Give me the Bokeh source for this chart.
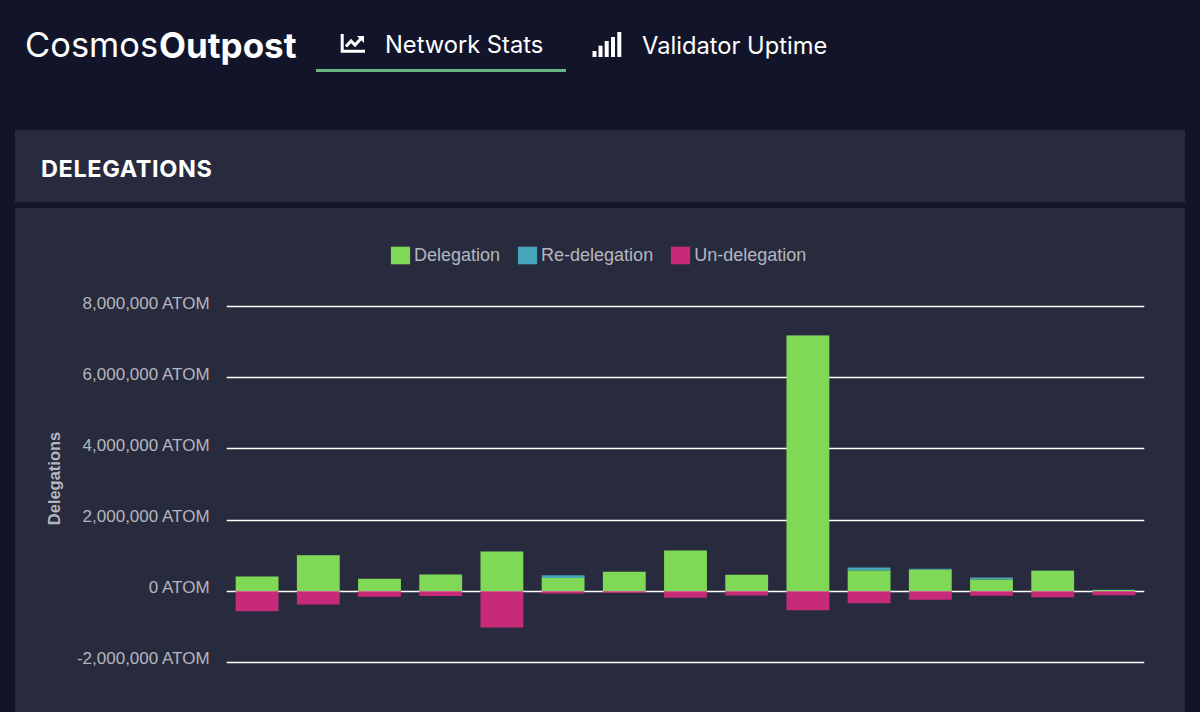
from bokeh.embed import file_html
from bokeh.resources import INLINE
from bokeh.plotting import figure
from bokeh.layouts import column
from bokeh.models import Div, LinearAxis, Range1d, Grid, FixedTicker, Legend, LegendItem

categories = list(range(1, 16))
delegation = [413000, 1013000, 347000, 469000, 1116000, 366000, 544000, 1144000, 460000,
              7190000, 582000, 600000, 328000, 572000, 30000]
redelegation = [2000, 2000, 2000, 2000, 2000, 84000, 4000, 2000, 2000, 10000, 84000, 30000, 56000, 5000, 10000]
undelegation = [563000, 375000, 160000, 140000, 1022000, 66000, 47000, 188000, 122000,
                535000, 338000, 244000, 131000, 169000, 113000]
tick_values = [-2000000, 0, 2000000, 4000000, 6000000, 8000000]
tick_labels = ["-2,000,000 ATOM", "0 ATOM", "2,000,000 ATOM", "4,000,000 ATOM", "6,000,000 ATOM", "8,000,000 ATOM"]

PAGE = "#12152a"
PANEL = "#282b3e"
GREEN = "#7fd957"
BLUE = "#47a5bc"
MAGENTA = "#c72a78"
MUTED = "#b4b6bf"
BODY_FONT = "Liberation Sans"
HEAD_FONT = "Inter"

Y_START, Y_END = -3415000, 9753000
LABEL_SHIFT = 95000
HEADER_H = 230

def span(x, top, s, size, weight=400, extra=""):
    return (f'<span style="position:absolute;left:{x}px;top:{top}px;font:{weight} {size}px/1 {HEAD_FONT};'
            f'color:#fff;white-space:nowrap;{extra}">{s}</span>')

icon_chart = ('<svg style="position:absolute;left:0;top:0" width="700" height="80">'
              '<path d="M342.2 34V51.2H365" fill="none" stroke="#fff" stroke-width="3"/>'
              '<path d="M346 46.5L351 41L355 45L361.5 38" fill="none" stroke="#fff" stroke-width="3"/>'
              '<path d="M357 36H364V43Z" fill="#fff"/>'
              + "".join(f'<rect x="{x}" y="{y}" width="4" height="{57 - y}" fill="#fff"/>'
                        for x, y in [(592.5, 51), (598.5, 45.7), (604.7, 41), (611, 37), (617.3, 32)])
              + '<rect x="316" y="69" width="250" height="3" fill="#6cb47f"/></svg>')

header_html = (f'<div style="position:relative;width:1200px;height:{HEADER_H}px">' + icon_chart
               + span(25, 28, "Cosmos", 34.5)
               + span(159, 28, "Outpost", 35, 700)
               + span(385, 33, "Network Stats", 23.7)
               + span(642, 34, "Validator Uptime", 23.7)
               + span(41, 157, "DELEGATIONS", 23.5, 700, "letter-spacing:.6px;")
               + '</div>')
header = Div(text=header_html, width=1200, height=HEADER_H, margin=0)

p = figure(width=1200, height=712 - HEADER_H, output_backend="svg", toolbar_location=None, margin=0,
           x_range=Range1d(0.5, 15.5), y_range=Range1d(Y_START, Y_END),
           x_axis_location=None, y_axis_location=None,
           min_border_left=226, min_border_right=56, min_border_top=14, min_border_bottom=0,
           border_fill_alpha=0, background_fill_alpha=0, outline_line_color=None)
p.grid.visible = False

p.add_layout(Grid(dimension=1, ticker=FixedTicker(ticks=tick_values), grid_line_color="#ffffff",
                  grid_line_width=1.4, level="underlay"))
p.extra_y_ranges = {"labels": Range1d(Y_START - LABEL_SHIFT, Y_END - LABEL_SHIFT)}
axis = LinearAxis(y_range_name="labels", ticker=FixedTicker(ticks=tick_values),
                  major_label_overrides=dict(zip(tick_values, tick_labels)),
                  axis_line_color=None, major_tick_line_color=None, minor_tick_line_color=None,
                  major_tick_in=0, major_tick_out=0, major_label_standoff=16,
                  major_label_text_color=MUTED, major_label_text_font=BODY_FONT,
                  major_label_text_font_size="17px",
                  axis_label="Delegations", axis_label_standoff=11, axis_label_text_color=MUTED,
                  axis_label_text_font=BODY_FONT, axis_label_text_font_size="16.5px",
                  axis_label_text_font_style="bold")
p.add_layout(axis, "left")

stack_top = [d + r for d, r in zip(delegation, redelegation)]
negative = [-u for u in undelegation]
r_blue = p.vbar(x=categories, bottom=delegation, top=stack_top, width=0.7, fill_color=BLUE, line_color=None)
r_green = p.vbar(x=categories, bottom=0, top=delegation, width=0.7, fill_color=GREEN, line_color=None)
r_mag = p.vbar(x=categories, bottom=0, top=negative, width=0.7, fill_color=MAGENTA, line_color=None)

legend = Legend(items=[LegendItem(label="Delegation", renderers=[r_green]),
                       LegendItem(label="Re-delegation", renderers=[r_blue]),
                       LegendItem(label="Un-delegation", renderers=[r_mag])],
                location=(162, 446), orientation="horizontal", background_fill_alpha=0, border_line_color=None,
                padding=0, margin=0, spacing=15, glyph_width=24, glyph_height=22, label_standoff=2,
                label_text_color=MUTED, label_text_font=BODY_FONT, label_text_font_size="18px",
                label_height=22, click_policy="none")
p.add_layout(legend, "center")

page = column(header, p, spacing=0, margin=0)
html = file_html(page, INLINE)
css = (f"html,body{{margin:0;padding:0;overflow:hidden;background-color:{PAGE};"
       f"background-image:linear-gradient({PANEL},{PANEL}),linear-gradient({PANEL},{PANEL});"
       "background-repeat:no-repeat;background-size:1170px 72px,1170px 504px;"
       "background-position:15px 130px,15px 208px}")
html = html.replace("</head>", f"<style>{css}</style></head>", 1)
open("out.html", "w").write(html)
